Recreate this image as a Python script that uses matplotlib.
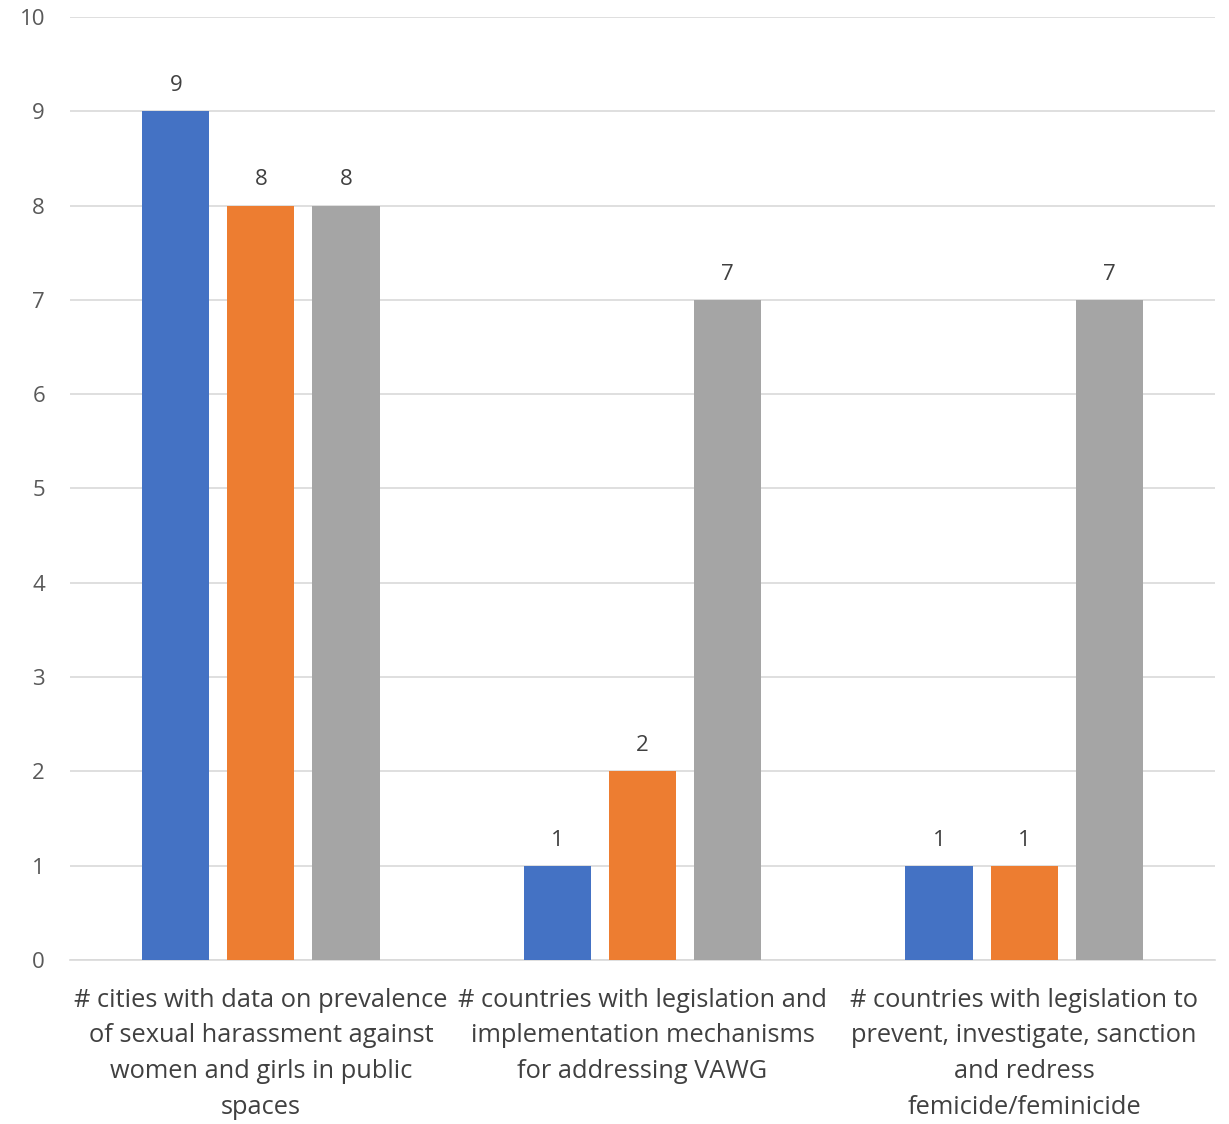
import matplotlib
matplotlib.use("Agg")
import matplotlib.pyplot as plt
import numpy as np

categories = [
    "# cities with data on prevalence\nof sexual harassment against\nwomen and girls in public\nspaces",
    "# countries with legislation and\nimplementation mechanisms\nfor addressing VAWG",
    "# countries with legislation to\nprevent, investigate, sanction\nand redress\nfemicide/feminicide",
]
series_a = [9, 1, 1]
series_b = [8, 2, 1]
series_c = [8, 7, 7]
colors = ["#4472C4", "#ED7D31", "#A5A5A5"]

plt.rcParams['font.family'] = ['Open Sans', 'DejaVu Sans']

fig = plt.figure(figsize=(12.29, 11.24), dpi=100)
ax = fig.add_axes([0.057, 0.1459, 0.9316, 0.839])

x = np.arange(len(categories))
w = 0.176
step = 0.223
for i, (vals, c) in enumerate(zip([series_a, series_b, series_c], colors)):
    pos = x + (i - 1) * step
    ax.bar(pos, vals, width=w, color=c, zorder=3)
    for p, v in zip(pos, vals):
        ax.text(p, v + 0.16, str(v), ha='center', va='bottom', fontsize=16, color='#404040')

ax.set_xlim(-0.5, 2.5)
ax.set_ylim(0, 10)
ax.set_yticks(range(0, 11))
ax.yaxis.grid(True, color='#D9D9D9', linewidth=1.2, zorder=0)
for s in ['top', 'right', 'left']:
    ax.spines[s].set_visible(False)
ax.spines['bottom'].set_color('#D9D9D9')
ax.spines['bottom'].set_linewidth(1.2)
ax.tick_params(axis='y', length=0, labelsize=16, labelcolor='#595959', pad=18)
ax.tick_params(axis='x', length=0, pad=20)
ax.set_xticks(x)
ax.set_xticklabels(categories, fontsize=18.3, color='#404040', linespacing=1.56)

fig.savefig("out.png", dpi=100)
